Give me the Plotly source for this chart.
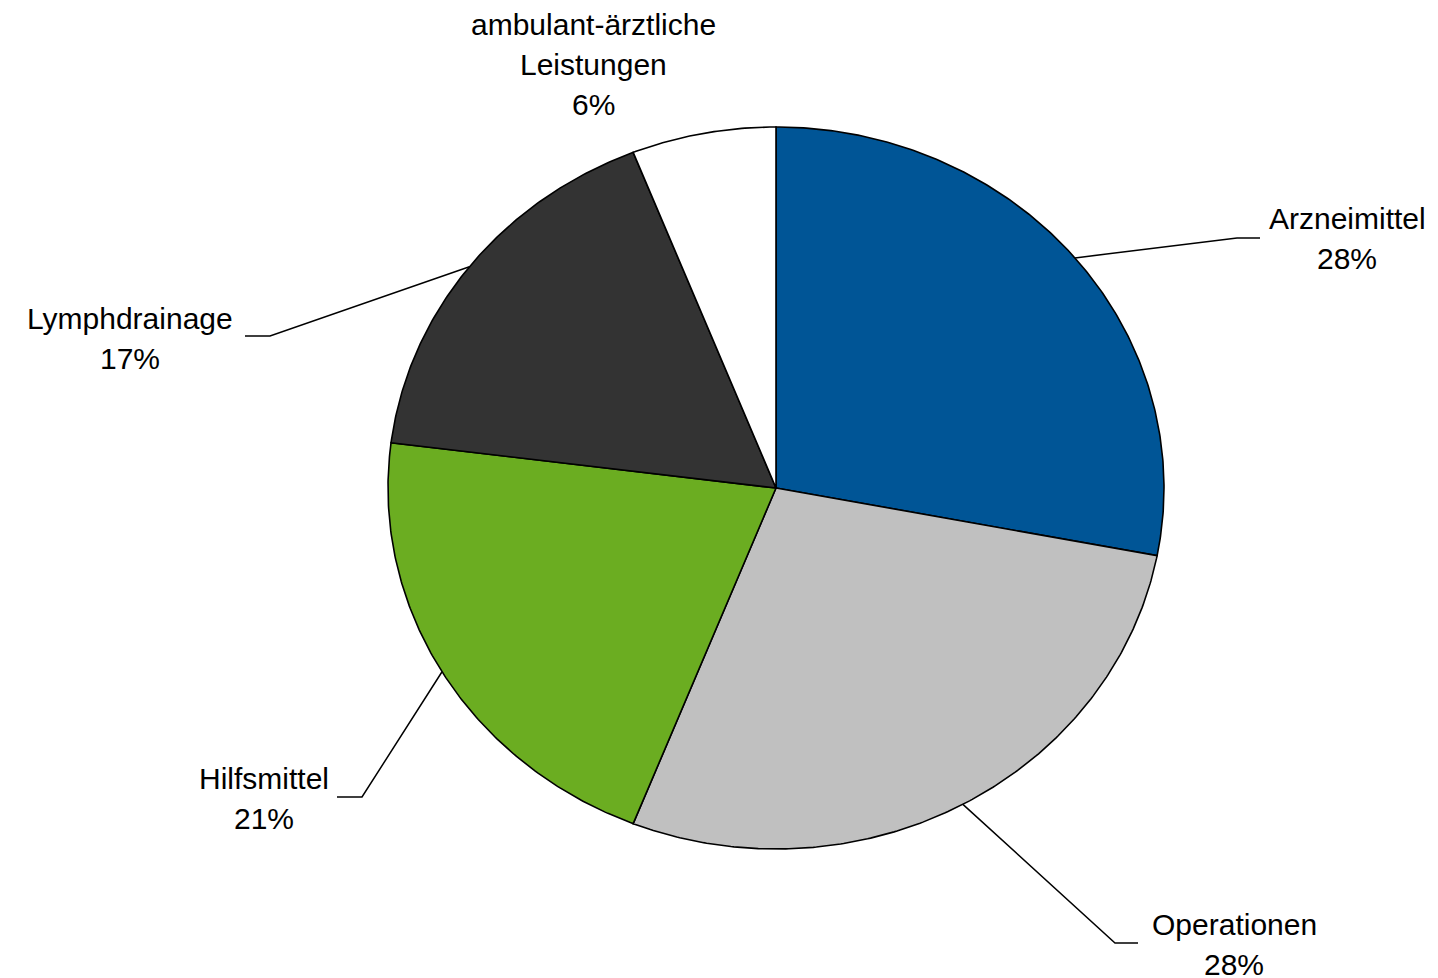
import numpy as np
import plotly.graph_objects as go

# Cost shares by category (percent), clockwise from 12 o'clock
categories = ["Arzneimittel", "Operationen", "Hilfsmittel", "Lymphdrainage",
              "ambulant-ärztliche Leistungen"]
shares = [28, 28, 21, 17, 6]

# Slice fills
colors = ["#005596", "#C0C0C0", "#6BAD21", "#333333", "#FFFFFF"]

# Geometry of the (slightly elliptical) pie in pixel space
CX, CY, RX, RY = 776, 488, 388, 361

# Label placement: text centre x, first-line centre y, leader elbow, leader end
label_layout = {
    "Arzneimittel": dict(x=1347, y=218, elbow=(1237, 238), end=(1260, 238)),
    "Operationen": dict(x=1234, y=924, elbow=(1115, 943), end=(1138, 943)),
    "Hilfsmittel": dict(x=264, y=778, elbow=(362, 797), end=(337, 797)),
    "Lymphdrainage": dict(x=130, y=318, elbow=(270, 336), end=(245, 336)),
    "ambulant-ärztliche Leistungen": dict(x=593, y=24, elbow=None, end=None),
}
LINE_GAP = 40
FONT = dict(family="Liberation Sans, Arial, sans-serif", size=30, color="#000000")


def ellipse_point(frac):
    t = 2 * np.pi * frac
    return CX + RX * np.sin(t), CY - RY * np.cos(t)


fig = go.Figure()
total = float(sum(shares))
start = 0.0
annotations = []
for name, val, col in zip(categories, shares, colors):
    f0, f1 = start / total, (start + val) / total
    fr = np.linspace(f0, f1, max(int(val * 8), 12))
    ex, ey = ellipse_point(fr)
    xs = np.concatenate([[CX], ex, [CX]])
    ys = np.concatenate([[CY], ey, [CY]])
    fig.add_trace(go.Scatter(
        x=xs, y=ys, mode="lines", fill="toself", fillcolor=col,
        line=dict(color="#000000", width=1.6), hoverinfo="text",
        text=f"{name}: {val}%", showlegend=False,
    ))

    lay = label_layout[name]
    if lay["elbow"] is not None:
        ax, ay = ellipse_point((f0 + f1) / 2)
        fig.add_trace(go.Scatter(
            x=[ax, lay["elbow"][0], lay["end"][0]],
            y=[ay, lay["elbow"][1], lay["end"][1]],
            mode="lines", line=dict(color="#000000", width=1.5),
            hoverinfo="skip", showlegend=False,
        ))

    lines = name.split() + [f"{val}%"]
    for i, txt in enumerate(lines):
        annotations.append(dict(
            x=lay["x"], y=lay["y"] + i * LINE_GAP, xref="x", yref="y",
            text=txt, showarrow=False, xanchor="center", yanchor="middle",
            font=FONT,
        ))
    start += val

fig.update_layout(
    width=1438, height=978,
    margin=dict(l=0, r=0, t=0, b=0),
    paper_bgcolor="#FFFFFF", plot_bgcolor="#FFFFFF",
    xaxis=dict(range=[0, 1438], visible=False, fixedrange=True),
    yaxis=dict(range=[978, 0], visible=False, fixedrange=True),
    annotations=annotations,
    showlegend=False,
)

fig.write_html("out.html")
